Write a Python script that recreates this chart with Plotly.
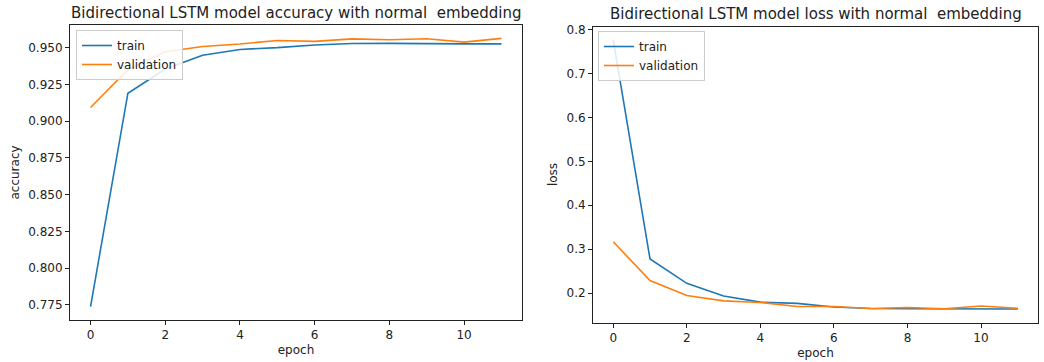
import plotly.graph_objects as go

epochs = list(range(12))
acc_train = [0.7738, 0.9190, 0.9355, 0.9448, 0.9488, 0.9500, 0.9518, 0.9528, 0.9529, 0.9526, 0.9526, 0.9526]
acc_val = [0.9093, 0.9350, 0.9472, 0.9508, 0.9525, 0.9549, 0.9543, 0.9560, 0.9554, 0.9561, 0.9538, 0.9563]
loss_train = [0.7760, 0.2780, 0.2225, 0.1935, 0.1797, 0.1768, 0.1687, 0.1652, 0.1648, 0.1648, 0.1642, 0.1640]
loss_val = [0.3170, 0.2290, 0.1950, 0.1826, 0.1790, 0.1697, 0.1697, 0.1652, 0.1675, 0.1648, 0.1708, 0.1658]

acc_ticks = [0.775, 0.800, 0.825, 0.850, 0.875, 0.900, 0.925, 0.950]
loss_ticks = [0.2, 0.3, 0.4, 0.5, 0.6, 0.7, 0.8]
x_ticks = [0, 2, 4, 6, 8, 10]

BLUE = "#1f77b4"
ORANGE = "#ff7f0e"
FONT = "DejaVu Sans"
W, H = 1044, 362


def padded(vals, frac=0.05):
    lo, hi = min(vals), max(vals)
    s = hi - lo
    return [lo - frac * s, hi + frac * s]


fig = go.Figure()
fig.add_trace(go.Scatter(x=epochs, y=acc_train, mode="lines", name="train",
                         line=dict(color=BLUE, width=1.6), xaxis="x", yaxis="y", legend="legend"))
fig.add_trace(go.Scatter(x=epochs, y=acc_val, mode="lines", name="validation",
                         line=dict(color=ORANGE, width=1.6), xaxis="x", yaxis="y", legend="legend"))
fig.add_trace(go.Scatter(x=epochs, y=loss_train, mode="lines", name="train",
                         line=dict(color=BLUE, width=1.6), xaxis="x2", yaxis="y2", legend="legend2"))
fig.add_trace(go.Scatter(x=epochs, y=loss_val, mode="lines", name="validation",
                         line=dict(color=ORANGE, width=1.6), xaxis="x2", yaxis="y2", legend="legend2"))

axis_common = dict(showline=True, linecolor="#222", linewidth=1, mirror=True,
                   ticks="outside", ticklen=4, tickcolor="#222", tickwidth=1,
                   showgrid=False, zeroline=False, automargin=False,
                   tickfont=dict(family=FONT, size=12, color="#222"))

xr = padded(epochs)
fig.update_layout(
    width=W, height=H,
    margin=dict(l=0, r=0, t=0, b=0, autoexpand=False),
    paper_bgcolor="white", plot_bgcolor="white",
    font=dict(family=FONT, size=12, color="#222"),
    xaxis=dict(domain=[70 / W, 522 / W], range=xr, tickvals=x_ticks, anchor="y",
               title=dict(text="epoch", font=dict(family=FONT, size=12), standoff=4), **axis_common),
    yaxis=dict(domain=[1 - 320 / H, 1 - 25 / H], range=padded(acc_train + acc_val),
               tickvals=acc_ticks, tickformat=".3f", anchor="x",
               title=dict(text="accuracy", font=dict(family=FONT, size=12), standoff=6), **axis_common),
    xaxis2=dict(domain=[593 / W, 1038 / W], range=xr, tickvals=x_ticks, anchor="y2",
                title=dict(text="epoch", font=dict(family=FONT, size=12), standoff=4), **axis_common),
    yaxis2=dict(domain=[1 - 322.5 / H, 1 - 26.5 / H], range=padded(loss_train + loss_val),
                tickvals=loss_ticks, tickformat=".1f", anchor="x2",
                title=dict(text="loss", font=dict(family=FONT, size=12), standoff=6), **axis_common),
    legend=dict(x=76 / W, y=1 - 30 / H, xanchor="left", yanchor="top",
                bgcolor="rgba(255,255,255,0.85)", bordercolor="#cccccc", borderwidth=1,
                font=dict(family=FONT, size=12), tracegroupgap=0, itemwidth=30),
    legend2=dict(x=598 / W, y=1 - 31 / H, xanchor="left", yanchor="top",
                 bgcolor="rgba(255,255,255,0.85)", bordercolor="#cccccc", borderwidth=1,
                 font=dict(family=FONT, size=12), tracegroupgap=0, itemwidth=30),
    annotations=[
        dict(text="Bidirectional LSTM model accuracy with normal\u00a0 embedding",
             x=(70 + 522) / 2 / W, y=1 - 13 / H, xref="paper", yref="paper",
             xanchor="center", yanchor="middle", showarrow=False,
             font=dict(family=FONT, size=15, color="#222")),
        dict(text="Bidirectional LSTM model loss with normal\u00a0 embedding",
             x=(593 + 1038) / 2 / W, y=1 - 14 / H, xref="paper", yref="paper",
             xanchor="center", yanchor="middle", showarrow=False,
             font=dict(family=FONT, size=15, color="#222")),
    ],
    showlegend=True,
)

fig.write_html("out.html", config={"displayModeBar": False},
               post_script="document.body.style.margin='0';document.body.style.overflow='hidden';")
